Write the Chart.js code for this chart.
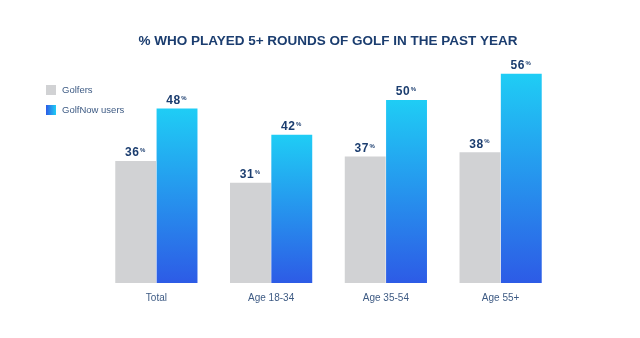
<!DOCTYPE html>
<html>
<head>
<meta charset="utf-8">
<script src="https://cdn.jsdelivr.net/npm/chart.js@4/dist/chart.umd.min.js"></script>
<style>
  html, body { margin: 0; padding: 0; background: #ffffff; }
  #wrap { width: 640px; height: 338px; position: relative; }
</style>
</head>
<body>
<div id="wrap"><canvas id="golfChart" width="640" height="338"></canvas></div>
<script>
// Data
const title = '% WHO PLAYED 5+ ROUNDS OF GOLF IN THE PAST YEAR';
const categories = ['Total', 'Age 18-34', 'Age 35-54', 'Age 55+'];
const golfers = [36, 31, 37, 38];
const golfNowUsers = [48, 42, 50, 56];
const seriesNames = ['Golfers', 'GolfNow users'];

const NAVY = '#1b3d6f';
const LABEL_GREY = '#3e5b84';
const GREY_BAR = '#d1d2d4';
const FONT = '"Liberation Sans", Arial, sans-serif';

// vertical cyan -> blue gradient per bar
function barGradient(context) {
    const chart = context.chart;
    const area = chart.chartArea;
    if (!area || !chart.scales.y) return '#22a9ee';
    const top = chart.scales.y.getPixelForValue(context.raw);
    const g = chart.ctx.createLinearGradient(0, top, 0, area.bottom);
    g.addColorStop(0, '#1fcdf5');
    g.addColorStop(1, '#2d5be6');
    return g;
}

// Value labels (bold number with small %) + custom legend + title
const decorPlugin = {
    id: 'decor',
    afterDatasetsDraw(chart) {
        const ctx = chart.ctx;
        ctx.save();
        chart.data.datasets.forEach((ds, i) => {
            chart.getDatasetMeta(i).data.forEach((bar, j) => {
                const num = String(ds.data[j]);
                ctx.letterSpacing = '0.6px';
                ctx.font = 'bold 12px ' + FONT;
                const wNum = ctx.measureText(num).width;
                ctx.font = 'bold 6px ' + FONT;
                const wPct = ctx.measureText('%').width;
                const x0 = bar.x - (wNum + wPct + 1) / 2;
                const yb = bar.y - 4.5;
                ctx.fillStyle = NAVY;
                ctx.textBaseline = 'alphabetic';
                ctx.textAlign = 'left';
                ctx.font = 'bold 12px ' + FONT;
                ctx.fillText(num, x0, yb);
                ctx.font = 'bold 6px ' + FONT;
                ctx.fillText('%', x0 + wNum + 0.5, yb - 4.5);
                ctx.letterSpacing = '0px';
            });
        });

        // legend
        const boxes = [{ y: 85, fill: GREY_BAR }, { y: 105, fill: null }];
        boxes.forEach((b, i) => {
            let fill = b.fill;
            if (!fill) {
                fill = ctx.createLinearGradient(46, 0, 56, 0);
                fill.addColorStop(0, '#2d5be6');
                fill.addColorStop(1, '#1fcdf5');
            }
            ctx.fillStyle = fill;
            ctx.fillRect(46, b.y, 10, 10);
            ctx.fillStyle = LABEL_GREY;
            ctx.font = '9.5px ' + FONT;
            ctx.textAlign = 'left';
            ctx.textBaseline = 'middle';
            ctx.fillText(seriesNames[i], 62, b.y + 5.5);
        });

        // title
        ctx.fillStyle = NAVY;
        ctx.font = 'bold 13.5px ' + FONT;
        ctx.textAlign = 'center';
        ctx.textBaseline = 'middle';
        ctx.fillText(title, 328, 41.5);
        ctx.restore();
    }
};

const ctx = document.getElementById('golfChart').getContext('2d');

new Chart(ctx, {
    type: 'bar',
    data: {
        labels: categories,
        datasets: [
            {
                label: seriesNames[0],
                data: golfers,
                backgroundColor: GREY_BAR,
                borderWidth: 0
            },
            {
                label: seriesNames[1],
                data: golfNowUsers,
                backgroundColor: barGradient,
                borderWidth: 0
            }
        ]
    },
    options: {
        responsive: false,
        animation: false,
        layout: {
            padding: { left: 99, right: 82, top: 65, bottom: 33 }
        },
        categoryPercentage: 0.72,
        barPercentage: 0.99,
        plugins: {
            legend: { display: false },
            tooltip: { enabled: false }
        },
        scales: {
            x: {
                grid: { display: false },
                border: { display: false },
                ticks: {
                    color: LABEL_GREY,
                    font: { family: FONT, size: 10 },
                    padding: 1
                }
            },
            y: {
                display: false,
                min: 8,
                max: 58
            }
        }
    },
    plugins: [decorPlugin]
});
</script>
</body>
</html>
